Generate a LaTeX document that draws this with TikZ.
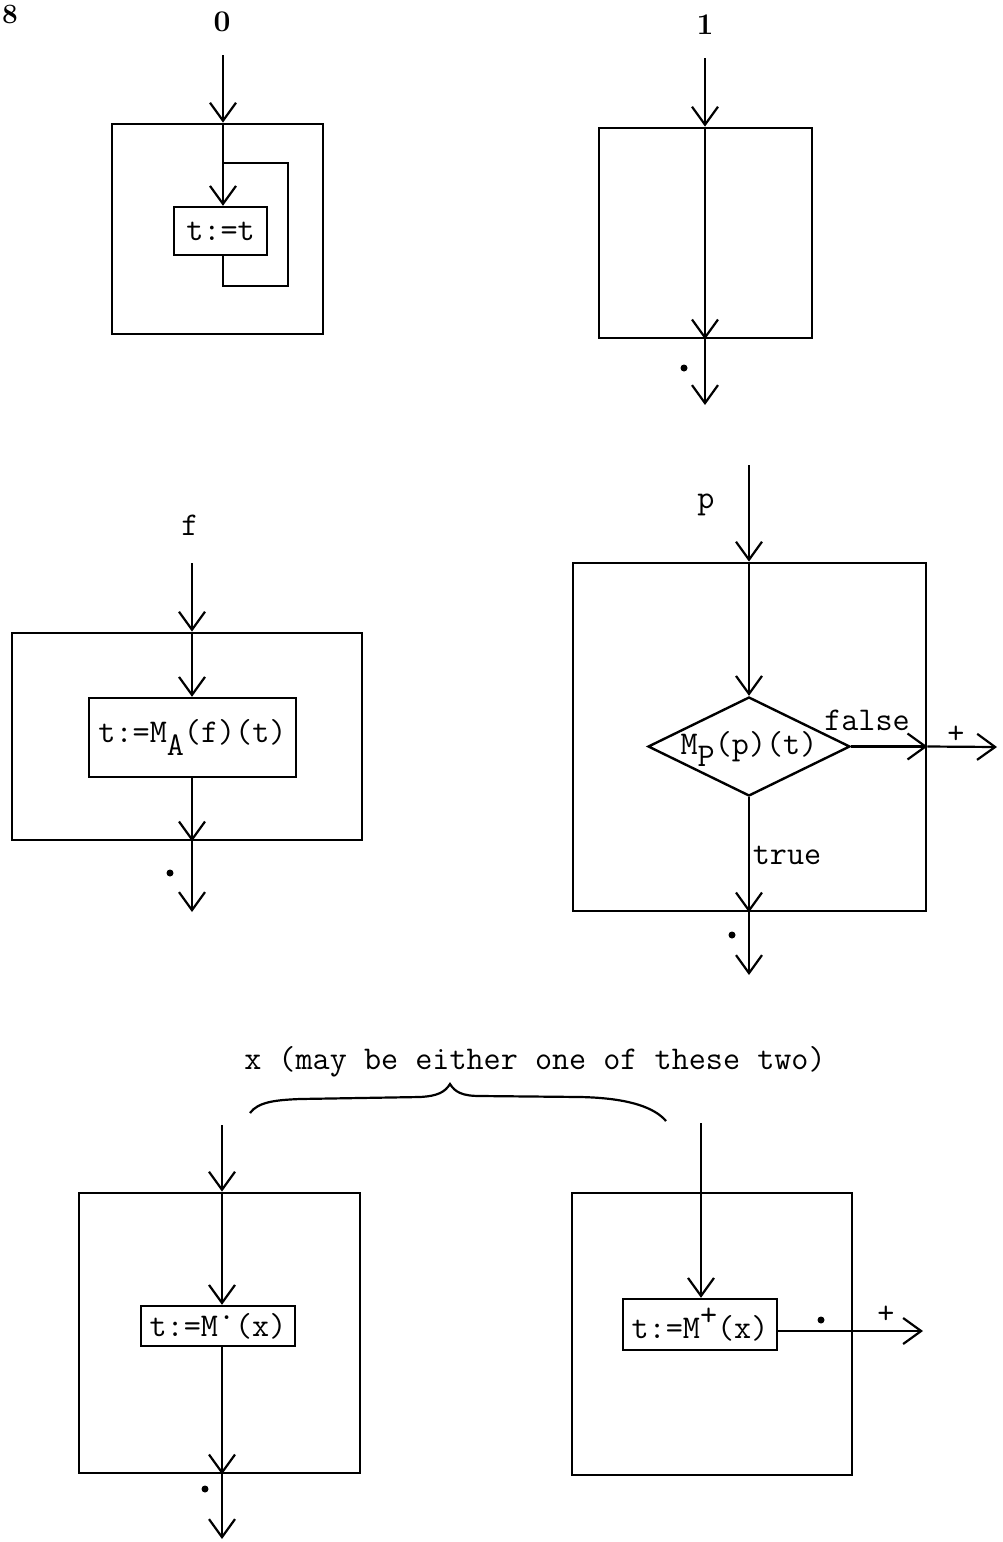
\documentclass[tikz,border=0pt]{standalone}
\usepackage{fontspec}
\usetikzlibrary{arrows.meta,shapes.geometric,fit}
\begin{document}
\begin{tikzpicture}[x=0.5pt,y=-0.5pt,
  line width=1.1pt,
  arr/.style={-{Straight Barb[length=9pt,width=13pt,line width=1.1pt]}},
  outerbox/.style={draw,line width=1.4pt,inner sep=0pt},
  innerbox/.style={draw,line width=1.2pt,inner sep=0pt,font=\ttfamily\fontsize{16.6}{18}\selectfont},
  lbl/.style={font=\ttfamily\fontsize{16.6}{18}\selectfont,inner sep=0pt},
  biglbl/.style={font=\bfseries\fontsize{15}{17}\selectfont,inner sep=0pt},
  dotn/.style={circle,fill,inner sep=0pt,minimum size=3.5pt}]

\useasboundingbox (0,0) rectangle (1002,1542);

% page number
\node[font=\bfseries\fontsize{14}{16}\selectfont,inner sep=0pt] (pg) at (10,14) {8};

% ---------- diagram 0 ----------
\node[biglbl] (l0) at (222,22) {0};
\node[outerbox,fit={(112,124) (323,334)}] (B0) {};
\node[innerbox,minimum width=46.5pt,minimum height=24pt] (I0) at (220.5,231) {t:=t};
\coordinate (s0) at (223,55);
\coordinate (c0a) at (223,286);
\coordinate (c0b) at (288,286);
\coordinate (c0c) at (288,163);
\coordinate (c0d) at (223,163);
\draw[arr] (s0) -- (s0 |- B0.north);
\draw[arr] (s0 |- B0.north) -- (s0 |- I0.north);
\draw (s0 |- I0.south) -- (c0a) -- (c0b) -- (c0c) -- (c0d);

% ---------- diagram 1 ----------
\node[biglbl] (l1) at (705,25) {1};
\node[outerbox,fit={(599,128) (812,338)}] (B1) {};
\coordinate (s1) at (705,58);
\coordinate (e1) at (705,405);
\draw[arr] (s1) -- (s1 |- B1.north);
\draw[arr] (s1 |- B1.north) -- (s1 |- B1.south);
\draw[arr] (s1 |- B1.south) -- (e1);
\node[dotn] (d1) at (684,368) {};

% ---------- diagram f ----------
\node[lbl] (lf) at (190,525) {f};
\node[outerbox,fit={(12,633) (362,840)}] (BF) {};
\node[innerbox,minimum width=103.5pt,minimum height=39.5pt] (IF) at (192.5,737.5) {t:=M\raisebox{-0.9ex}{A}(f)(t)};
\coordinate (sf) at (192,563);
\coordinate (ef) at (192,912);
\draw[arr] (sf) -- (sf |- BF.north);
\draw[arr] (sf |- BF.north) -- (sf |- IF.north);
\draw[arr] (sf |- IF.south) -- (sf |- BF.south);
\draw[arr] (sf |- BF.south) -- (ef);
\node[dotn] (df) at (170,873) {};

% ---------- diagram p ----------
\node[lbl] (lp) at (706,505) {p};
\node[outerbox,fit={(573,563) (926,911)}] (BP) {};
\node[diamond,draw,line width=1.2pt,minimum width=101pt,minimum height=49.5pt,inner sep=0pt] (DP) at (749,746.5) {};
\node[lbl] (tp) at (749,749) {M\raisebox{-0.9ex}{P}(p)(t)};
\coordinate (sp) at (749,465);
\coordinate (epf) at (997,747);
\coordinate (ept) at (749,975);
\draw[arr] (sp) -- (sp |- BP.north);
\draw[arr] (sp |- BP.north) -- (DP.north);
\draw[arr] (DP.east) -- (BP.east |- DP.east);
\draw[arr] (BP.east |- DP.east) -- (epf);
\draw[arr] (DP.south) -- (DP.south |- BP.south);
\draw[arr] (DP.south |- BP.south) -- (ept);
\node[lbl] (lfalse) at (867,720) {false};
\node[lbl] (lplus1) at (956,735) {+};
\node[lbl] (ltrue) at (787,855) {true};
\node[dotn] (dp) at (732,935) {};

% ---------- bottom caption and brace ----------
\node[lbl] (lx) at (535,1062) {x (may be either one of these two)};
\coordinate (brl) at (250,1113);
\coordinate (brm) at (450,1084);
\coordinate (brr) at (666,1121);
\draw (brl) .. controls (258,1102) and (275,1100) .. (300,1099) -- (420,1097)
  .. controls (438,1096) and (445,1092) .. (brm)
  .. controls (455,1092) and (462,1096) .. (480,1096) -- (580,1097)
  .. controls (630,1098) and (655,1108) .. (brr);

% ---------- bottom-left diagram ----------
\node[outerbox,fit={(79,1193) (360,1473)}] (BL) {};
\node[innerbox,minimum width=77pt,minimum height=20pt] (IL) at (218,1326) {t:=M\raisebox{0.5em}{.}(x)};
\coordinate (sl) at (222,1125);
\coordinate (el) at (222,1539);
\draw[arr] (sl) -- (sl |- BL.north);
\draw[arr] (sl |- BL.north) -- (sl |- IL.north);
\draw[arr] (sl |- IL.south) -- (sl |- BL.south);
\draw[arr] (sl |- BL.south) -- (el);
\node[dotn] (dl) at (205,1489) {};

% ---------- bottom-right diagram ----------
\node[outerbox,fit={(572,1193) (852,1475)}] (BR) {};
\node[innerbox,minimum width=77pt,minimum height=25.5pt] (IR) at (700,1324.5) {t:=M\raisebox{0.9ex}{+}(x)};
\coordinate (sr) at (701,1123);
\coordinate (er) at (923,1331);
\draw[arr] (sr) -- (sr |- IR.north);
\draw[arr] (IR.east |- er) -- (er);
\node[dotn] (dr) at (821,1320) {};
\node[lbl] (lplus2) at (886,1315) {+};
\end{tikzpicture}
\end{document}
